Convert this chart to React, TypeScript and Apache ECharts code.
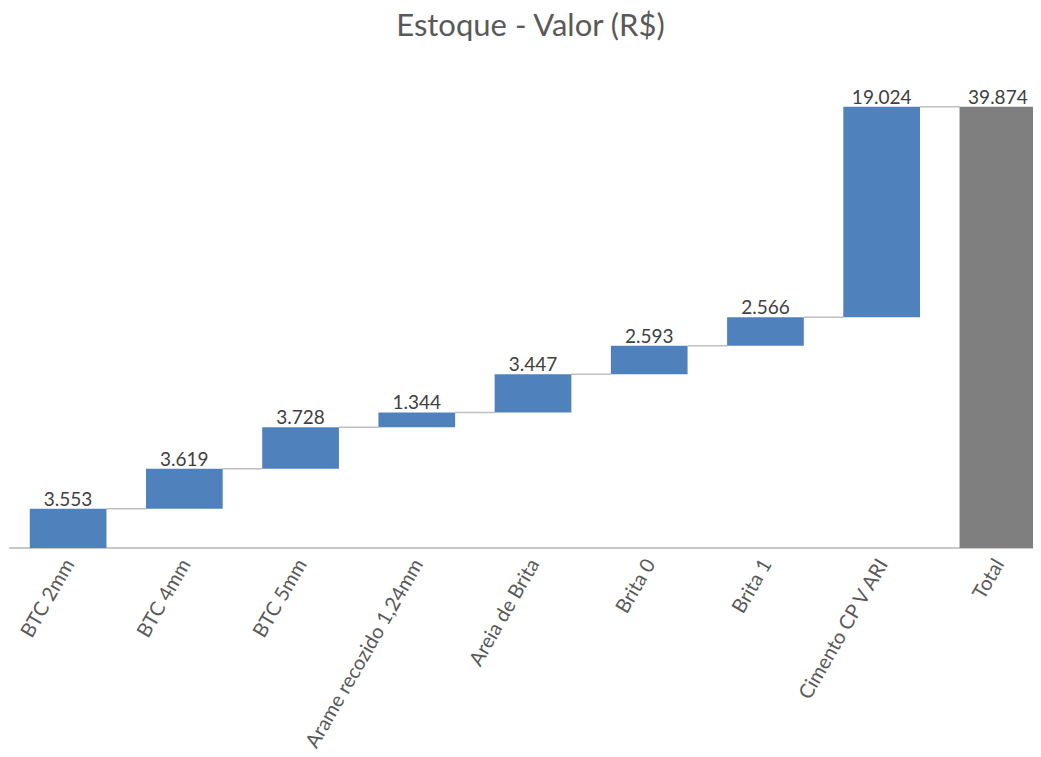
import React, { useEffect, useRef } from "react";
import * as echarts from "echarts";

const categories = [
  "BTC 2mm",
  "BTC 4mm",
  "BTC 5mm",
  "Arame recozido 1,24mm",
  "Areia de Brita",
  "Brita 0",
  "Brita 1",
  "Cimento CP V ARI",
  "Total",
];
const increments = [3553, 3619, 3728, 1344, 3447, 2593, 2566, 19024];
const totalValue = 39874;
const titleText = "Estoque - Valor (R$)";

const fmt = (v: number) => v.toString().replace(/\B(?=(\d{3})+(?!\d))/g, ".");

export default function App() {
  const ref = useRef<HTMLDivElement>(null);
  useEffect(() => {
    if (!ref.current) return;
    const chart = echarts.init(ref.current, undefined, { renderer: "svg" });
    const bases: number[] = [];
    const tops: number[] = [];
    let acc = 0;
    increments.forEach((v) => {
      bases.push(acc);
      acc += v;
      tops.push(acc);
    });
    const baseData = [...bases, 0];
    const valueData = [
      ...increments.map((v) => ({ value: v, itemStyle: { color: "#4f81bd" } })),
      { value: totalValue, itemStyle: { color: "#7f7f7f" } },
    ];
    const connectorData = tops.map((t, i) => [i, t]);
    const font = "Lato, 'Open Sans', sans-serif";
    const barFrac = 0.66;
    chart.setOption({
      animation: false,
      title: {
        text: titleText,
        left: "center",
        top: 3,
        textStyle: { fontFamily: font, fontSize: 31, fontWeight: "normal", color: "#595959" },
      },
      grid: { left: 10, right: 5, top: 50, bottom: 209, containLabel: false },
      xAxis: {
        type: "category",
        data: categories,
        axisLine: { lineStyle: { color: "#c8c8c8", width: 2 } },
        axisTick: { show: false },
        axisLabel: {
          rotate: 60,
          interval: 0,
          margin: 12,
          fontFamily: font,
          fontSize: 20,
          color: "#595959",
        },
      },
      yAxis: {
        type: "value",
        min: 0,
        max: 45000,
        show: false,
        splitLine: { show: false },
      },
      series: [
        {
          type: "bar",
          stack: "w",
          data: baseData,
          itemStyle: { color: "transparent" },
          barCategoryGap: "34%",
          silent: true,
        },
        {
          type: "bar",
          stack: "w",
          data: valueData,
          barCategoryGap: "34%",
          label: {
            show: true,
            position: "top",
            distance: 1,
            fontFamily: font,
            fontSize: 19,
            color: "#404040",
            formatter: (p: any) => fmt(p.value),
          },
        },
        {
          type: "custom",
          data: connectorData,
          silent: true,
          z: 1,
          renderItem: (params: any, api: any) => {
            const i = api.value(0);
            const y = api.value(1);
            const band = api.size([1, 0])[0];
            const half = (band * barFrac) / 2;
            const p1 = api.coord([i, y]);
            const p2 = api.coord([i + 1, y]);
            return {
              type: "line",
              shape: { x1: p1[0] + half, y1: p1[1], x2: p2[0] - half, y2: p2[1] },
              style: { stroke: "#c0c0c0", lineWidth: 1.5 },
            };
          },
        },
      ],
    });
    return () => chart.dispose();
  }, []);
  return (
    <div style={{ width: 1041, height: 757, marginLeft: -8, marginTop: -8, overflow: "hidden" }}>
      <div ref={ref} style={{ width: 1061, height: 757 }} />
    </div>
  );
}
